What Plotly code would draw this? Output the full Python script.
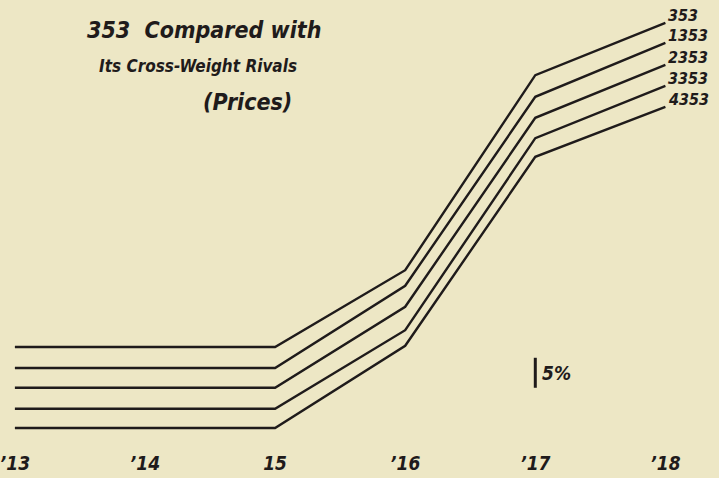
import plotly.graph_objects as go

years = [1913, 1914, 1915, 1916, 1917, 1918]
tick_labels = ["’13", "’14", "15", "’16", "’17", "’18"]
series_names = ["353", "1353", "2353", "3353", "4353"]
# plotted price levels, in per-cent units (5% scale bar)
s353 = [13.5, 13.5, 13.5, 26.3, 58.8, 67.5]
s1353 = [10.0, 10.0, 10.0, 23.7, 55.2, 64.2]
s2353 = [6.7, 6.7, 6.7, 20.2, 51.7, 60.5]
s3353 = [3.2, 3.2, 3.2, 16.3, 48.3, 57.0]
s4353 = [0.0, 0.0, 0.0, 13.7, 45.2, 53.5]
all_series = [s353, s1353, s2353, s3353, s4353]
scale_pct = 5

BG = "#ede7c5"
INK = "#1f1b1b"
FONT = "DejaVu Sans Condensed, Liberation Sans Narrow, DejaVu Sans"

fig = go.Figure()
for name, vals in zip(series_names, all_series):
    fig.add_trace(go.Scatter(x=years, y=vals, mode="lines", name=name,
                             line=dict(color=INK, width=2.4), showlegend=False,
                             hoverinfo="skip"))
    fig.add_annotation(x=years[-1], y=vals[-1], text=name, showarrow=False,
                       xanchor="left", yanchor="middle", xshift=1, yshift=7,
                       font=dict(family=FONT, size=16, color=INK, style="italic", weight="bold"))

# 5% scale bar
bar_x = 1917.0
bar_y0 = 6.7
fig.add_shape(type="line", x0=bar_x, x1=bar_x, y0=bar_y0, y1=bar_y0 + scale_pct,
              line=dict(color=INK, width=3))
fig.add_annotation(x=bar_x, y=bar_y0 + scale_pct / 2, text=f"{scale_pct}%", showarrow=False,
                   xanchor="left", yanchor="middle", xshift=5,
                   font=dict(family=FONT, size=19, color=INK, style="italic", weight="bold"))

# title
fig.add_annotation(xref="paper", yref="paper", x=200 / 719, y=1 - 32 / 478,
                   text="353  Compared with", showarrow=False,
                   xanchor="center", yanchor="middle",
                   font=dict(family=FONT, size=23, color=INK, style="italic", weight="bold"))
fig.add_annotation(xref="paper", yref="paper", x=194 / 719, y=1 - 70 / 478,
                   text="Its Cross-Weight Rivals", showarrow=False,
                   xanchor="center", yanchor="middle",
                   font=dict(family=FONT, size=17, color=INK, style="italic", weight="bold"))
fig.add_annotation(xref="paper", yref="paper", x=244 / 719, y=1 - 108 / 478,
                   text="(Prices)", showarrow=False,
                   xanchor="center", yanchor="middle",
                   font=dict(family=FONT, size=23, color=INK, style="italic", weight="bold"))

fig.update_layout(
    width=719, height=478,
    margin=dict(l=0, r=0, t=0, b=28),
    paper_bgcolor=BG, plot_bgcolor=BG,
    xaxis=dict(range=[1912.924, 1918.412], tickvals=years, ticktext=tick_labels,
               showgrid=False, zeroline=False, showline=False, ticks="",
               ticklabeloverflow="allow",
               tickfont=dict(family=FONT, size=19, color=INK, style="italic", weight="bold"),
               fixedrange=True),
    yaxis=dict(range=[-3.67, 71.33], showgrid=False, zeroline=False, showline=False,
               showticklabels=False, ticks="", fixedrange=True),
)
fig.write_html("out.html", config={"displayModeBar": False})

with open("out.html", "r", encoding="utf-8") as f:
    html = f.read()
html = html.replace("<head>", "<head><style>html,body{margin:0;padding:0;overflow:hidden;}</style>", 1)
with open("out.html", "w", encoding="utf-8") as f:
    f.write(html)
